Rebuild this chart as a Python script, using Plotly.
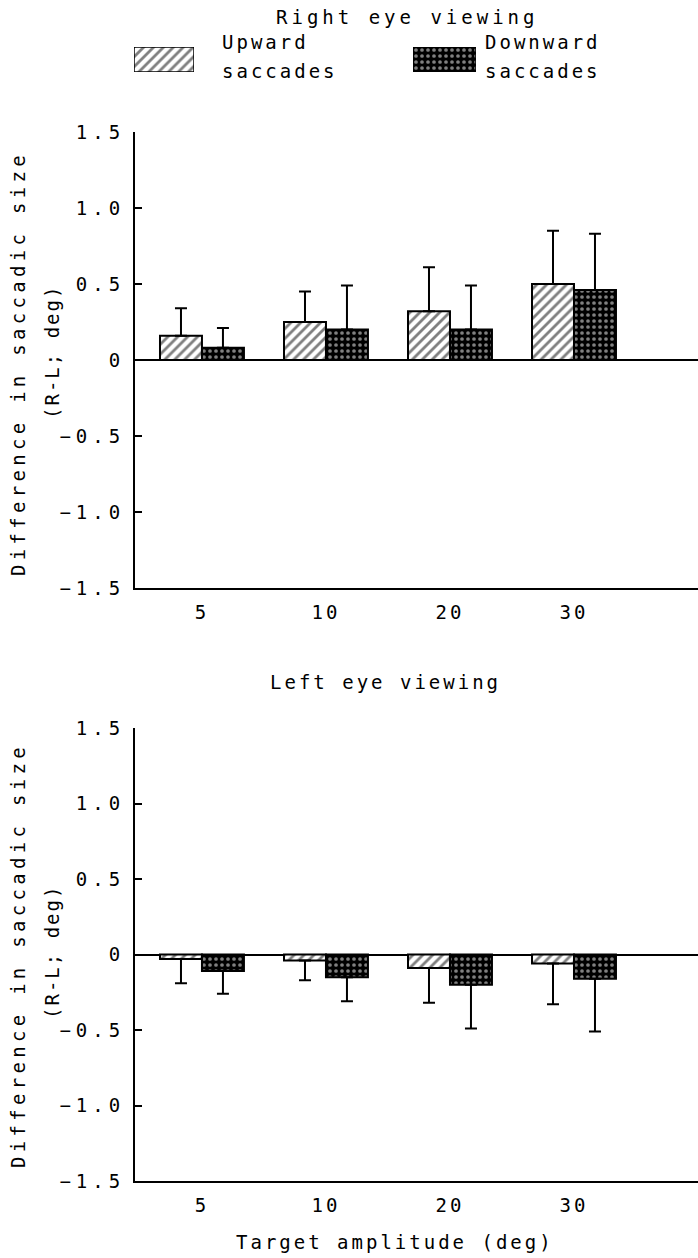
import plotly.graph_objects as go

# ---------------- data ----------------
categories = ["5", "10", "20", "30"]

right_up = [0.16, 0.25, 0.32, 0.50]
right_up_err = [0.18, 0.20, 0.29, 0.35]
right_down = [0.08, 0.20, 0.20, 0.46]
right_down_err = [0.13, 0.29, 0.29, 0.37]

left_up = [-0.03, -0.04, -0.09, -0.06]
left_up_err = [0.16, 0.13, 0.23, 0.27]
left_down = [-0.11, -0.15, -0.20, -0.16]
left_down_err = [0.15, 0.16, 0.29, 0.35]

y_tickvals = [1.5, 1.0, 0.5, 0, -0.5, -1.0, -1.5]
y_ticktext = ["1.5", "1.0", "0.5", "0", "\u22120.5", "\u22121.0", "\u22121.5"]

# ---------------- style ----------------
FONT = "DejaVu Sans Mono"
FS = 19
LS = 3  # letter spacing px


def sp(t, ls=LS):
    return f'<span style="letter-spacing:{ls}px">{t}</span>'


W, H = 698, 1258

up_pattern = dict(shape="/", fgcolor="black", bgcolor="white", size=7, solidity=0.4)
down_pattern = dict(shape=".", fgcolor="white", bgcolor="black", size=6, solidity=0.3)


def err(vals, e):
    pos = [x if v >= 0 else 0 for v, x in zip(vals, e)]
    neg = [x if v < 0 else 0 for v, x in zip(vals, e)]
    return dict(type="data", symmetric=False, array=pos, arrayminus=neg,
                color="black", thickness=2, width=6)


fig = go.Figure()


def add_pair(up, up_e, dn, dn_e, xa, ya):
    fig.add_trace(go.Bar(x=categories, y=up, error_y=err(up, up_e),
                         marker=dict(color="white", pattern=up_pattern,
                                     line=dict(color="black", width=2)),
                         xaxis=xa, yaxis=ya, showlegend=False, name="Upward saccades"))
    fig.add_trace(go.Bar(x=categories, y=dn, error_y=err(dn, dn_e),
                         marker=dict(color="black", pattern=down_pattern,
                                     line=dict(color="black", width=2)),
                         xaxis=xa, yaxis=ya, showlegend=False, name="Downward saccades"))


add_pair(right_up, right_up_err, right_down, right_down_err, "x", "y")
add_pair(left_up, left_up_err, left_down, left_down_err, "x2", "y2")

# legend swatches (drawn on hidden helper axes)
box = dict(x=[0, 1, 1, 0, 0], y=[0, 0, 1, 1, 0])
fig.add_trace(go.Scatter(**box, fill="toself", mode="lines", fillcolor="white",
                         fillpattern=up_pattern, line=dict(color="black", width=1.5),
                         xaxis="x3", yaxis="y3", showlegend=False, hoverinfo="skip"))
fig.add_trace(go.Scatter(**box, fill="toself", mode="lines", fillcolor="black",
                         fillpattern=down_pattern, line=dict(color="black", width=1.5),
                         xaxis="x4", yaxis="y4", showlegend=False, hoverinfo="skip"))


def px_x(p):
    return p / W


def px_y(p):
    return 1 - p / H


xdom = [px_x(135), 1.0]
top_dom = [px_y(588), px_y(132)]
bot_dom = [px_y(1181), px_y(728)]

xaxis_common = dict(showline=True, linecolor="black", linewidth=2, ticks="",
                    showgrid=False, zeroline=False, range=[-0.54, 4.0],
                    automargin=False,
                    tickfont=dict(family=FONT, size=FS, color="black"),
                    ticktext=[sp(c) for c in categories], tickvals=categories,
                    ticklabelstandoff=6)
yaxis_common = dict(showline=True, linecolor="black", linewidth=2, ticks="inside",
                    ticklen=7, tickwidth=2, tickcolor="black", showgrid=False,
                    zeroline=True, zerolinecolor="black", zerolinewidth=2,
                    range=[-1.5, 1.5], tickvals=y_tickvals, automargin=False,
                    ticktext=[sp(t, 5) for t in y_ticktext], ticklabelstandoff=4,
                    tickfont=dict(family=FONT, size=FS, color="black"))
hidden = dict(range=[0, 1], visible=False, automargin=False)

fig.update_layout(
    width=W, height=H,
    margin=dict(l=0, r=0, t=0, b=0, pad=0, autoexpand=False),
    paper_bgcolor="white", plot_bgcolor="white",
    barmode="group", bargap=0.323, bargroupgap=0,
    xaxis=dict(domain=xdom, anchor="y", **xaxis_common),
    yaxis=dict(domain=top_dom, anchor="x", **yaxis_common),
    xaxis2=dict(domain=xdom, anchor="y2", **xaxis_common),
    yaxis2=dict(domain=bot_dom, anchor="x2", **yaxis_common),
    xaxis3=dict(domain=[px_x(134), px_x(194)], anchor="y3", **hidden),
    yaxis3=dict(domain=[px_y(72), px_y(47)], anchor="x3", **hidden),
    xaxis4=dict(domain=[px_x(413), px_x(476)], anchor="y4", **hidden),
    yaxis4=dict(domain=[px_y(72), px_y(47)], anchor="x4", **hidden),
    font=dict(family=FONT, size=FS, color="black"),
    showlegend=False,
)

ann_font = dict(family=FONT, size=FS, color="black")
annotations = [
    dict(text=sp("Right eye viewing", 4), x=px_x(407), y=px_y(17)),
    dict(text=sp("Left eye viewing"), x=px_x(385), y=px_y(682)),
    dict(text=sp("Upward"), x=px_x(220), y=px_y(42), xanchor="left"),
    dict(text=sp("saccades"), x=px_x(220), y=px_y(71), xanchor="left"),
    dict(text=sp("Downward"), x=px_x(483), y=px_y(42), xanchor="left"),
    dict(text=sp("saccades"), x=px_x(483), y=px_y(71), xanchor="left"),
    dict(text=sp("Target amplitude (deg)"), x=px_x(395), y=px_y(1242)),
]
for cy, cy2 in ((364, 352), (956, 952)):
    annotations.append(dict(text=sp("Difference in saccadic size", 4.3), x=px_x(18),
                            y=px_y(cy), textangle=-90))
    annotations.append(dict(text=sp("(R-L; deg)", 2), x=px_x(52), y=px_y(cy2),
                            textangle=-90))
for a in annotations:
    a.setdefault("xanchor", "center")
    a.update(xref="paper", yref="paper", yanchor="middle", showarrow=False,
             font=ann_font)
fig.update_layout(annotations=annotations)

fig.write_html(
    "out.html",
    config={"displayModeBar": False},
    post_script="document.documentElement.style.margin='0';"
                "document.body.style.margin='0';"
                "document.body.style.overflow='hidden';",
)
